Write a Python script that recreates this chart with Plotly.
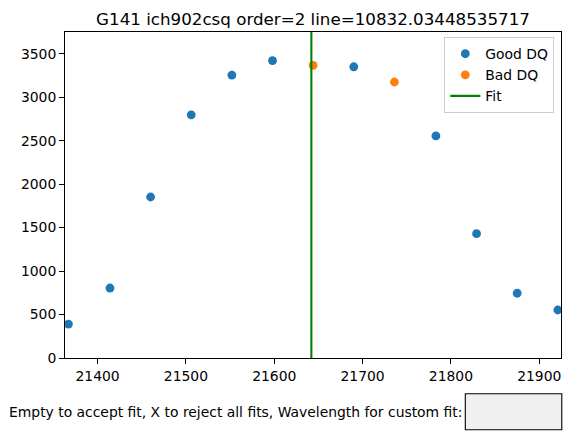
import plotly.graph_objects as go

# Data
good_x = [21367, 21414, 21460, 21506, 21552, 21598, 21690, 21783, 21829, 21875, 21921]
good_y = [390, 805, 1852, 2797, 3255, 3420, 3350, 2555, 1430, 745, 552]
bad_x = [21644, 21736]
bad_y = [3365, 3175]
fit_x = 21642
x_range = [21363.1, 21924.6]
y_range = [0, 3750]
x_ticks = [21400, 21500, 21600, 21700, 21800, 21900]
y_ticks = [0, 500, 1000, 1500, 2000, 2500, 3000, 3500]
title = "G141 ich902csq order=2 line=10832.03448535717"
prompt = "Empty to accept fit, X to reject all fits, Wavelength for custom fit:"

W, H = 571, 445
L, R, T, B = 64.7, 10.3, 32.3, 86.7
pw = W - L - R
ph = H - T - B

def px(xp):
    return (xp - L) / pw

def py(yp):
    return (H - B - yp) / ph

FONT = "DejaVu Sans"

fig = go.Figure()
fig.add_trace(go.Scatter(x=good_x, y=good_y, mode="markers", name="Good DQ",
                         marker=dict(color="#1f77b4", size=8.8, line=dict(width=0)),
                         cliponaxis=True))
fig.add_trace(go.Scatter(x=bad_x, y=bad_y, mode="markers", name="Bad DQ",
                         marker=dict(color="#ff7f0e", size=8.8, line=dict(width=0)),
                         cliponaxis=True))
fig.add_trace(go.Scatter(x=[fit_x, fit_x], y=y_range, mode="lines", name="Fit",
                         line=dict(color="#008000", width=2.08)))

axis_common = dict(showgrid=False, zeroline=False, showline=True, linecolor="black",
                   linewidth=1.1, mirror=True, ticks="outside", ticklen=4.9,
                   tickwidth=1.1, tickcolor="black",
                   tickfont=dict(family=FONT, size=13.9, color="black"))

fig.update_xaxes(range=x_range, tickmode="array", tickvals=x_ticks,
                 ticktext=[str(v) for v in x_ticks], **axis_common)
fig.update_yaxes(range=y_range, tickmode="array", tickvals=y_ticks,
                 ticktext=[str(v) for v in y_ticks], **axis_common)

fig.update_layout(
    width=W, height=H,
    margin=dict(l=L, r=R, t=T, b=B, pad=0),
    paper_bgcolor="white", plot_bgcolor="white",
    font=dict(family=FONT, size=13.9, color="black"),
    title=dict(text=title, xref="paper", x=0.5, xanchor="center",
               yref="container", y=1 - 19 / H, yanchor="middle",
               font=dict(family=FONT, size=16.7, color="black")),
    showlegend=True,
    legend=dict(x=px(554), y=py(37.5), xanchor="right", yanchor="top",
                bgcolor="rgba(255,255,255,0.8)", bordercolor="#cccccc", borderwidth=1,
                font=dict(family=FONT, size=13.9, color="black"),
                itemwidth=30, tracegroupgap=0),
)

fig.add_annotation(text=prompt, xref="paper", yref="paper", x=px(463.5), y=py(412.5),
                   xanchor="right", yanchor="middle", showarrow=False,
                   font=dict(family=FONT, size=13.9, color="black"))
fig.add_shape(type="rect", xref="paper", yref="paper",
              x0=px(465), x1=px(561.5), y0=py(430), y1=py(394),
              fillcolor="#f0f0f0", line=dict(color="black", width=1.1))

fig.write_html("out.html")
